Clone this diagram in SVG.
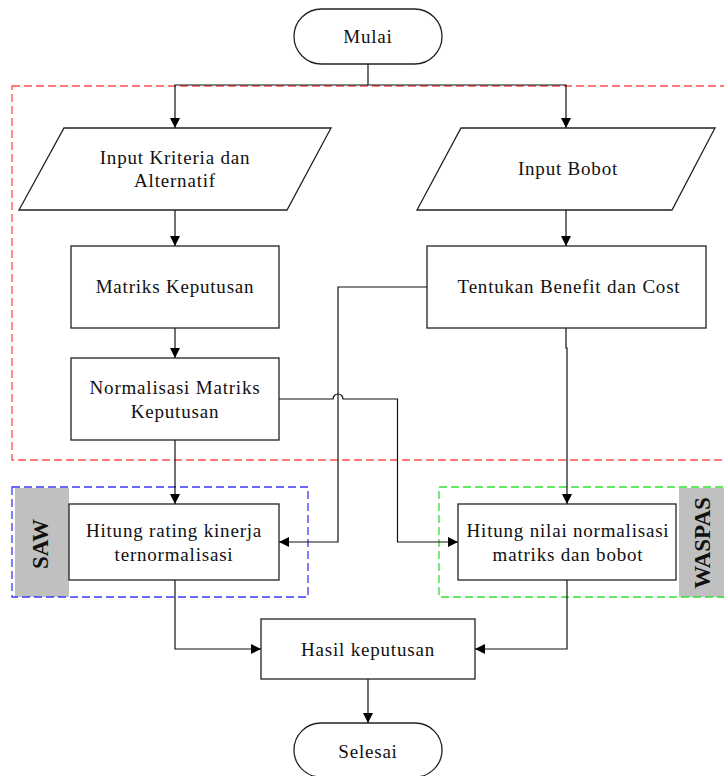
<svg xmlns="http://www.w3.org/2000/svg" width="724" height="776" viewBox="0 0 724 776">
<style>
.shape{fill:#fff;stroke:#222;stroke-width:1.3}
.lbl{font-family:"Liberation Serif","Times New Roman",serif;font-size:19px;letter-spacing:0.8px;fill:#111;text-anchor:middle}
.side{font-family:"Liberation Serif","Times New Roman",serif;font-size:23px;font-weight:bold;fill:#111;text-anchor:middle}
.con{fill:none;stroke:#111;stroke-width:1.2}
.grp{fill:none;stroke-width:1.3;stroke-dasharray:8,4}
.tag{fill:#c0c0c0;stroke:none}
</style>
<defs>
<marker id="ah" markerUnits="userSpaceOnUse" markerWidth="10" markerHeight="10" refX="10" refY="5" orient="auto">
<path d="M0,0 L10,5 L0,10 z" fill="#000"/>
</marker>
</defs>
<rect width="724" height="776" fill="#fff"/>
<g id="groups">
<rect class="grp" x="12" y="86" width="720" height="374" stroke="#ff4d4d"/>
<rect class="tag" x="15" y="488" width="54" height="109"/>
<rect class="grp" x="12" y="487" width="296" height="110" stroke="#3a3aff"/>
<rect class="tag" x="679" y="488" width="46" height="109"/>
<rect class="grp" x="439" y="487" width="292" height="110" stroke="#33e033"/>
<text class="side" transform="translate(48,544) rotate(-90)">SAW</text>
<text class="side" transform="translate(710,543) rotate(-90)">WASPAS</text>
</g>
<g id="connectors">
<path class="con" d="M368,64 V85"/>
<path class="con" d="M368,85 H175 V128" marker-end="url(#ah)"/>
<path class="con" d="M368,85 H566 V128" marker-end="url(#ah)"/>
<path class="con" d="M175,210 V246" marker-end="url(#ah)"/>
<path class="con" d="M566,210 V246" marker-end="url(#ah)"/>
<path class="con" d="M175,328 V358" marker-end="url(#ah)"/>
<path class="con" d="M566,328 V348 H567 V504" marker-end="url(#ah)"/>
<path class="con" d="M427,287 H338 V542 H279" marker-end="url(#ah)"/>
<path class="con" d="M279,399 H333 A5,5 0 0 1 343,399 H397.5 V542 H458" marker-end="url(#ah)"/>
<path class="con" d="M175,440 V504" marker-end="url(#ah)"/>
<path class="con" d="M175,580 V649 H261" marker-end="url(#ah)"/>
<path class="con" d="M567,580 V649 H475" marker-end="url(#ah)"/>
<path class="con" d="M368,679 V723" marker-end="url(#ah)"/>
</g>
<g id="mulai">
<rect class="shape" x="294" y="9" width="148" height="55" rx="27.5"/>
<text class="lbl" x="368" y="43">Mulai</text>
</g>
<g id="input-kriteria">
<polygon class="shape" points="64,128 331,128 287,210 19,210"/>
<text class="lbl" x="175" y="164">Input Kriteria dan</text>
<text class="lbl" x="175" y="187">Alternatif</text>
</g>
<g id="input-bobot">
<polygon class="shape" points="461,128 715,128 672,210 417,210"/>
<text class="lbl" x="568" y="175">Input Bobot</text>
</g>
<g id="matriks">
<rect class="shape" x="71" y="246" width="208" height="82"/>
<text class="lbl" x="175" y="293">Matriks Keputusan</text>
</g>
<g id="tentukan">
<rect class="shape" x="427" y="246" width="279" height="82"/>
<text class="lbl" x="569" y="293">Tentukan Benefit dan Cost</text>
</g>
<g id="normalisasi">
<rect class="shape" x="71" y="358" width="208" height="82"/>
<text class="lbl" x="175" y="394">Normalisasi Matriks</text>
<text class="lbl" x="175" y="418">Keputusan</text>
</g>
<g id="saw">
<rect class="shape" x="69" y="504" width="210" height="76"/>
<text class="lbl" x="174" y="537">Hitung rating kinerja</text>
<text class="lbl" x="174" y="561">ternormalisasi</text>
</g>
<g id="waspas">
<rect class="shape" x="458" y="504" width="218" height="76"/>
<text class="lbl" x="568" y="537">Hitung nilai normalisasi</text>
<text class="lbl" x="568" y="561">matriks dan bobot</text>
</g>
<g id="hasil">
<rect class="shape" x="261" y="619" width="214" height="60"/>
<text class="lbl" x="368" y="656">Hasil keputusan</text>
</g>
<g id="selesai">
<rect class="shape" x="294" y="723" width="148" height="54" rx="27"/>
<text class="lbl" x="368" y="758">Selesai</text>
</g>
</svg>
